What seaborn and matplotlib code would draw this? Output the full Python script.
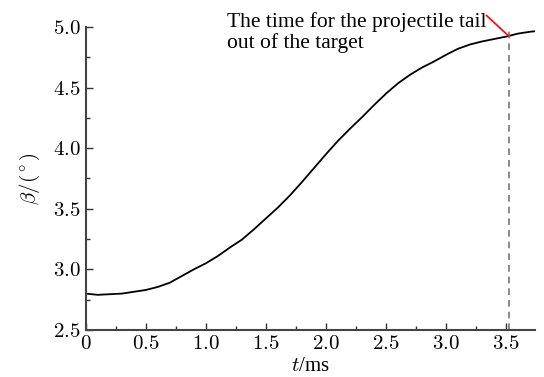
import matplotlib
matplotlib.use("Agg")
import matplotlib.pyplot as plt
import pandas as pd
import seaborn as sns
from matplotlib.ticker import MultipleLocator, FuncFormatter

# time (ms) and angle beta (deg)
t_ms = [0.00, 0.05, 0.10, 0.20, 0.30, 0.40, 0.50, 0.60, 0.70, 0.80, 0.90,
        1.00, 1.10, 1.20, 1.30, 1.40, 1.50, 1.60, 1.70, 1.80, 1.90, 2.00,
        2.10, 2.20, 2.30, 2.40, 2.50, 2.60, 2.70, 2.80, 2.90, 3.00, 3.10,
        3.20, 3.30, 3.40, 3.50, 3.60, 3.70, 3.75]
beta = [2.80, 2.795, 2.79, 2.795, 2.80, 2.815, 2.83, 2.855, 2.89, 2.945,
        3.00, 3.05, 3.11, 3.18, 3.245, 3.33, 3.42, 3.51, 3.61, 3.72, 3.835,
        3.95, 4.06, 4.16, 4.255, 4.355, 4.45, 4.535, 4.605, 4.665, 4.715, 4.77,
        4.82, 4.855, 4.88, 4.90, 4.92, 4.945, 4.96, 4.965]
t_exit = 3.52
beta_exit = 4.925
note = "The time for the projectile tail\nout of the target"

df = pd.DataFrame({"t": t_ms, "beta": beta})

sns.set_theme(style="ticks")
plt.rcParams["font.family"] = ["Liberation Serif", "DejaVu Serif"]
plt.rcParams["mathtext.fontset"] = "cm"
plt.rcParams["text.color"] = "black"
plt.rcParams["axes.labelcolor"] = "black"

fig = plt.figure(figsize=(5.44, 3.77), dpi=100)
ax = fig.add_axes([0.1575, 0.1247, 0.826, 0.804])

sns.lineplot(data=df, x="t", y="beta", ax=ax, color="black", linewidth=1.3)
ax.axvline(t_exit, color="#777777", linestyle=(0, (4, 3)), linewidth=1.2)

ax.text(1.18, 5.125, note, fontsize=15.5, va="top", ha="left",
        linespacing=1.12, clip_on=False)
ax.annotate("", xy=(t_exit, beta_exit), xytext=(3.335, 5.095),
            arrowprops=dict(arrowstyle="-", color="red", lw=1.2,
                            shrinkA=0, shrinkB=0),
            annotation_clip=False)

ax.set_xlim(0, 3.74)
ax.set_ylim(2.5, 5.0)
ax.xaxis.set_major_locator(MultipleLocator(0.5))
ax.xaxis.set_minor_locator(MultipleLocator(0.25))
ax.yaxis.set_major_locator(MultipleLocator(0.5))
ax.yaxis.set_minor_locator(MultipleLocator(0.25))
ax.xaxis.set_major_formatter(FuncFormatter(lambda v, p: "$0$" if v == 0 else f"${v:.1f}$"))
ax.yaxis.set_major_formatter(FuncFormatter(lambda v, p: f"${v:.1f}$"))
ax.tick_params(which="both", direction="in", colors="#333333", labelcolor="black",
               labelsize=15)
ax.tick_params(which="major", length=5, width=1)
ax.tick_params(which="minor", length=3, width=1)
for s in ["left", "bottom"]:
    ax.spines[s].set_linewidth(1.5)
    ax.spines[s].set_color("#444444")
sns.despine(ax=ax)

ax.set_xlabel(r"$t$/ms", fontsize=15, labelpad=2)
ax.set_ylabel(r"$\beta/(^\circ)$", fontsize=15, labelpad=8)

fig.savefig("out.png", dpi=100)
